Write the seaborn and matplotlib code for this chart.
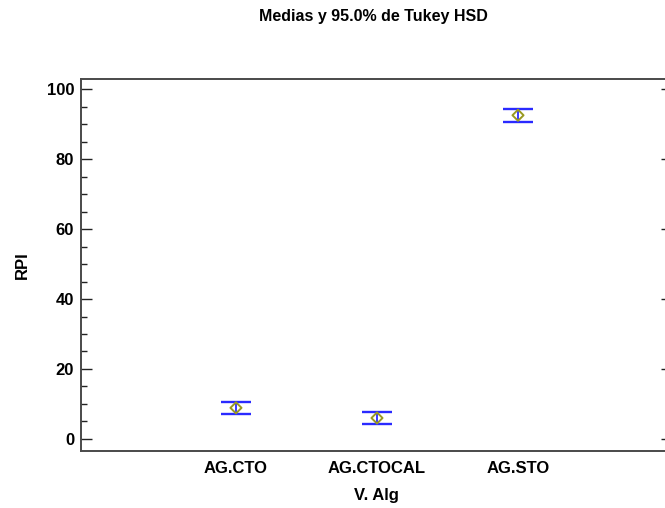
import numpy as np
import pandas as pd
import matplotlib
matplotlib.use("Agg")
import matplotlib.pyplot as plt
import seaborn as sns
from matplotlib.ticker import MultipleLocator

# Tukey HSD means and 95% intervals per algorithm
categories = ["AG.CTO", "AG.CTOCAL", "AG.STO"]
means = [8.9, 6.0, 92.5]
lower = [7.1, 4.2, 90.7]
upper = [10.7, 7.8, 94.3]

yticks = [0, 20, 40, 60, 80, 100]

sns.set_theme(style="white")
plt.rcParams['font.family'] = ['Liberation Sans', 'DejaVu Sans']
plt.rcParams['text.color'] = 'black'
plt.rcParams['axes.labelcolor'] = 'black'

df = pd.DataFrame({"alg": categories, "mean": means, "lo": lower, "hi": upper})
df["pos"] = np.arange(len(df))

fig = plt.figure(figsize=(6.65, 5.08), dpi=100)
ax = fig.add_axes([81 / 665, 1 - 451 / 508, (672 - 81) / 665, (451 - 79) / 508])

# interval bars
ax.errorbar(df["pos"], df["mean"],
            yerr=[df["mean"] - df["lo"], df["hi"] - df["mean"]],
            fmt="none", ecolor="#2a2aff", elinewidth=1.3,
            capsize=10.5, capthick=1.7, zorder=2)

# means as open diamonds
sns.scatterplot(data=df, x="pos", y="mean", marker="D", s=32,
                facecolor="none", edgecolor="#999922", linewidth=1.4,
                ax=ax, zorder=3, legend=False)

ax.set_xlim(-1.099, 3.092)
ax.set_ylim(-3.43, 102.86)
ax.set_xticks(df["pos"])
ax.set_xticklabels(categories)
ax.set_yticks(yticks)
ax.yaxis.set_minor_locator(MultipleLocator(5))

ax.tick_params(axis="x", length=0, pad=7, labelsize=12, labelcolor="black")
ax.tick_params(axis="y", which="major", direction="in", length=8, width=1,
               color="#222222", pad=5, labelsize=12, labelcolor="black",
               left=True, right=True)
ax.tick_params(axis="y", which="minor", direction="in", length=4.5, width=1,
               color="#222222", left=True, right=False)
for lab in ax.get_xticklabels() + ax.get_yticklabels():
    lab.set_fontweight("bold")

for sp in ax.spines.values():
    sp.set_color("#4a4a4a")
    sp.set_linewidth(1.4)

ax.set_xlabel("V. Alg", fontsize=12, fontweight="bold", labelpad=9)
ax.set_ylabel("RPI", fontsize=12, fontweight="bold", labelpad=12)

fig.text(373 / 665, 1 - 21 / 508, "Medias y 95.0% de Tukey HSD",
         ha="center", va="baseline", fontsize=11.5, fontweight="bold")

fig.savefig("out.png", dpi=100)
